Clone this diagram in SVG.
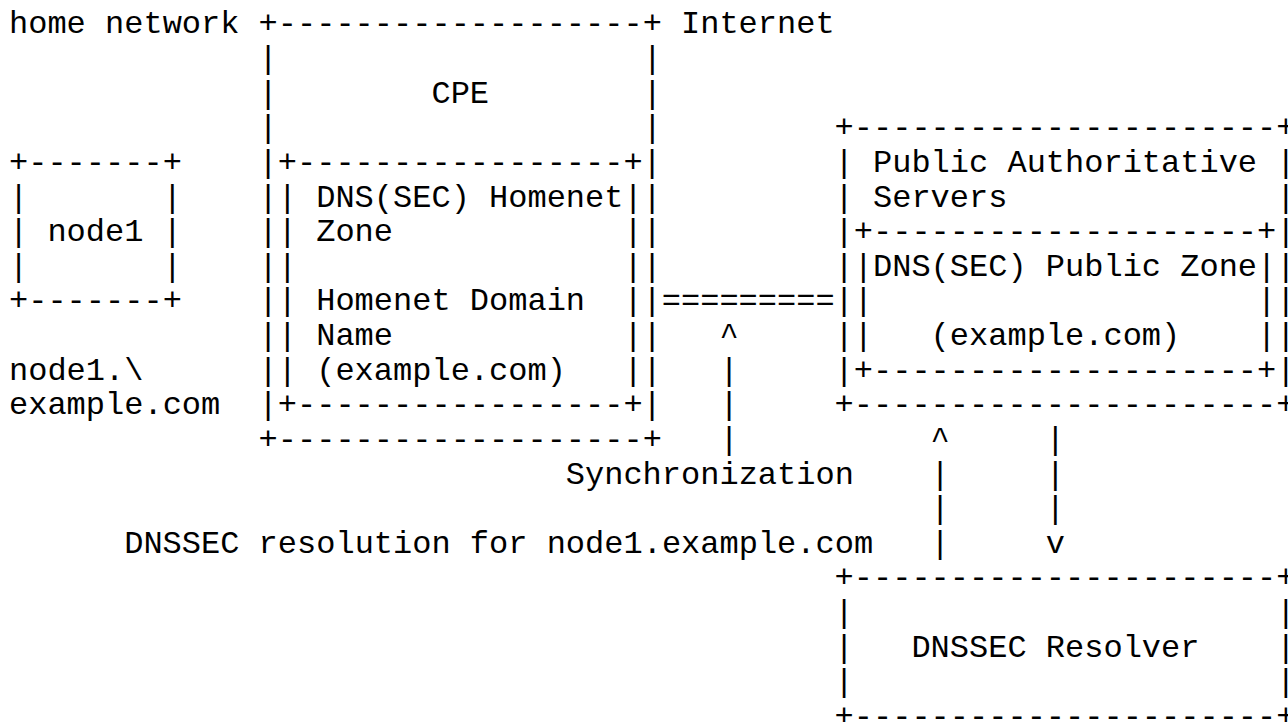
<svg xmlns="http://www.w3.org/2000/svg" width="1288" height="722" viewBox="0 0 1288 722" xml:space="preserve">
<style>
text { font-family: "Liberation Mono", "Courier New", monospace; font-size: 32px; fill: #000; white-space: pre; }
</style>
<rect x="0" y="0" width="1288" height="722" fill="#fff"/>
<g id="labels">
<text x="9" y="33.3">home network</text>
<text x="681" y="33.3">Internet</text>
<text x="9" y="379.6">node1.\</text>
<text x="9" y="414.2">example.com</text>
</g>
<g id="cpe">
<text x="258.6" y="33.3">+-------------------+</text>
<text x="258.6" y="67.9">|                   |</text>
<text x="258.6" y="102.6">|        CPE        |</text>
<text x="258.6" y="137.2">|                   |</text>
<text x="258.6" y="171.8">|</text><text x="642.6" y="171.8">|</text>
<text x="258.6" y="206.5">|</text><text x="642.6" y="206.5">|</text>
<text x="258.6" y="241.1">|</text><text x="642.6" y="241.1">|</text>
<text x="258.6" y="275.7">|</text><text x="642.6" y="275.7">|</text>
<text x="258.6" y="310.3">|</text><text x="642.6" y="310.3">|</text>
<text x="258.6" y="345.0">|</text><text x="642.6" y="345.0">|</text>
<text x="258.6" y="379.6">|</text><text x="642.6" y="379.6">|</text>
<text x="258.6" y="414.2">|</text><text x="642.6" y="414.2">|</text>
<text x="258.6" y="448.9">+-------------------+</text>
</g>
<g id="homenet-zone">
<text x="277.8" y="171.8">+-----------------+</text>
<text x="277.8" y="206.5">| DNS(SEC) Homenet|</text>
<text x="277.8" y="241.1">| Zone            |</text>
<text x="277.8" y="275.7">|                 |</text>
<text x="277.8" y="310.3">| Homenet Domain  |</text>
<text x="277.8" y="345.0">| Name            |</text>
<text x="277.8" y="379.6">| (example.com)   |</text>
<text x="277.8" y="414.2">+-----------------+</text>
</g>
<g id="node1">
<text x="9" y="171.8">+-------+</text>
<text x="9" y="206.5">|       |</text>
<text x="9" y="241.1">| node1 |</text>
<text x="9" y="275.7">|       |</text>
<text x="9" y="310.3">+-------+</text>
</g>
<g id="public-authoritative-servers">
<text x="834.6" y="137.2">+----------------------+</text>
<text x="834.6" y="171.8">| Public Authoritative |</text>
<text x="834.6" y="206.5">| Servers              |</text>
<text x="834.6" y="241.1">|</text><text x="1276.2" y="241.1">|</text>
<text x="834.6" y="275.7">|</text><text x="1276.2" y="275.7">|</text>
<text x="834.6" y="310.3">|</text><text x="1276.2" y="310.3">|</text>
<text x="834.6" y="345.0">|</text><text x="1276.2" y="345.0">|</text>
<text x="834.6" y="379.6">|</text><text x="1276.2" y="379.6">|</text>
<text x="834.6" y="414.2">+----------------------+</text>
</g>
<g id="public-zone">
<text x="853.8" y="241.1">+--------------------+</text>
<text x="853.8" y="275.7">|DNS(SEC) Public Zone|</text>
<text x="853.8" y="310.3">|                    |</text>
<text x="853.8" y="345.0">|   (example.com)    |</text>
<text x="853.8" y="379.6">+--------------------+</text>
</g>
<g id="dnssec-resolver">
<text x="834.6" y="587.4">+----------------------+</text>
<text x="834.6" y="622.0">|                      |</text>
<text x="834.6" y="656.6">|   DNSSEC Resolver    |</text>
<text x="834.6" y="691.3">|                      |</text>
<text x="834.6" y="725.9">+----------------------+</text>
</g>
<g id="connectors">
<text x="661.8" y="310.3">=========</text>
<text x="719.4" y="345.0">^</text>
<text x="719.4" y="379.6">|</text>
<text x="719.4" y="414.2">|</text>
<text x="719.4" y="448.9">|</text>
<text x="565.8" y="483.5">Synchronization</text>
<text x="930.6" y="448.9">^</text>
<text x="930.6" y="483.5">|</text>
<text x="930.6" y="518.1">|</text>
<text x="930.6" y="552.8">|</text>
<text x="1045.8" y="448.9">|</text>
<text x="1045.8" y="483.5">|</text>
<text x="1045.8" y="518.1">|</text>
<text x="1045.8" y="552.8">v</text>
<text x="124.2" y="552.8">DNSSEC resolution for node1.example.com</text>
</g>
</svg>
